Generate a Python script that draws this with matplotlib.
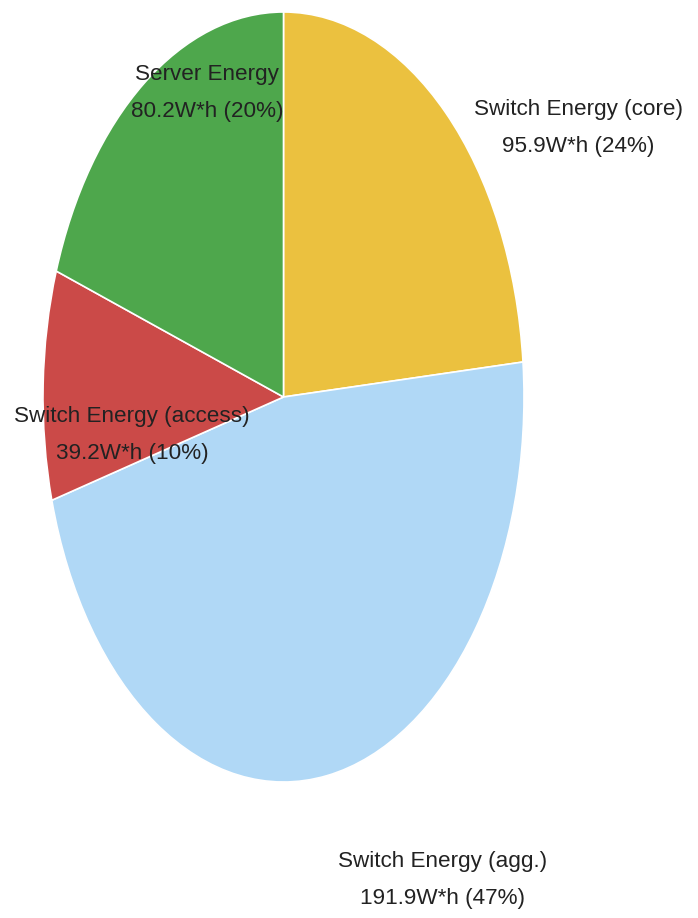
import matplotlib
matplotlib.use("Agg")
import matplotlib.pyplot as plt

names = ["Switch Energy (core)", "Switch Energy (agg.)", "Switch Energy (access)", "Server Energy"]
values = [95.9, 191.9, 39.2, 80.2]
colors = ["#EBC13F", "#B0D8F6", "#CB4A48", "#4EA74C"]

# label block centres in pixels
label_pos = [(578, 128), (443, 880), (132, 435), (207, 93)]

W, H = 698, 918
fig = plt.figure(figsize=(W / 100, H / 100), dpi=100)
ax = fig.add_axes([0, 0, 1, 1])

cx, cy, rx, ry = 283.5, 397, 240.5, 385
ax.pie(values, colors=colors, startangle=90, counterclock=False,
       wedgeprops=dict(edgecolor="white", linewidth=1.2))
ax.set_aspect("auto")
ax.set_xlim(-cx / rx, (W - cx) / rx)
ax.set_ylim(-(H - cy) / ry, cy / ry)
ax.axis("off")

total = sum(values)
for n, v, (px, py) in zip(names, values, label_pos):
    fig.text(px / W, 1 - py / H, f"{n}\n{v}W*h ({v / total * 100:.0f}%)",
             ha="center", va="center", multialignment="center",
             fontsize=16.2, family="Liberation Sans", color="#222222", linespacing=1.95)

fig.savefig("out.png", dpi=100)
